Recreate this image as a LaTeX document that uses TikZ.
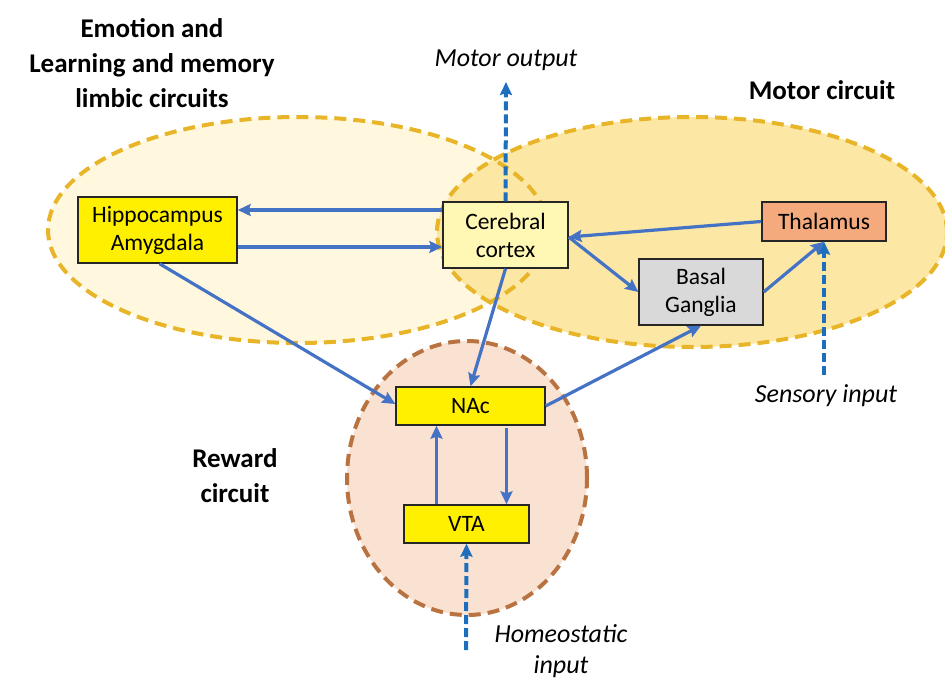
\documentclass[tikz,border=0pt]{standalone}
\usepackage{fontspec}
\setmainfont{Carlito}
\usetikzlibrary{arrows.meta}
\definecolor{goldline}{RGB}{232,180,40}
\definecolor{limbfill}{RGB}{255,248,222}
\definecolor{motorfill}{RGB}{253,231,165}
\definecolor{rewfill}{RGB}{250,226,210}
\definecolor{rewline}{RGB}{185,115,65}
\definecolor{boxyellow}{RGB}{255,240,0}
\definecolor{cortexfill}{RGB}{255,247,180}
\definecolor{thalfill}{RGB}{244,170,125}
\definecolor{bgfill}{RGB}{217,217,217}
\definecolor{arrblue}{RGB}{68,114,196}
\definecolor{dashblue}{RGB}{30,110,190}
\begin{document}
\begin{tikzpicture}[x=1pt,y=-1pt,
  region/.style={line width=4pt, dash pattern=on 12pt off 7pt},
  box/.style={draw=black!85, line width=1.4pt, align=center, font=\fontsize{23.5}{28}\selectfont, inner sep=0pt},
  conn/.style={draw=arrblue, line width=3.2pt, -{Stealth[length=13pt,width=12pt,inset=2pt]}},
  inconn/.style={draw=dashblue, line width=4pt, dash pattern=on 9pt off 4pt, -{Stealth[length=13pt,width=12pt,inset=2pt]}},
  title/.style={font=\bfseries\fontsize{27}{35}\selectfont, align=center},
  lbl/.style={font=\itshape\fontsize{26}{31}\selectfont, align=center}]
\useasboundingbox (0,0) rectangle (945,682);
% region fills
\fill[limbfill] (298,230) ellipse [x radius=250pt, y radius=113pt];
\fill[motorfill] (692,232) ellipse [x radius=255pt, y radius=115pt];
\fill[rewfill] (467,478) ellipse [x radius=120pt, y radius=137pt];
% region borders
\draw[region, goldline] (298,230) ellipse [x radius=250pt, y radius=113pt];
\draw[region, goldline] (692,232) ellipse [x radius=255pt, y radius=115pt];
\draw[region, rewline] (467,478) ellipse [x radius=120pt, y radius=137pt];
% titles
\node[title] (tlimbic) at (152,63) {Emotion and\\Learning and memory\\limbic circuits};
\node[title] (tmotor) at (822,90) {Motor circuit};
\node[title] (treward) at (235,476) {Reward\\circuit};
% boxes
\node[box, fill=boxyellow, minimum width=159pt, minimum height=66pt] (hippo) at (157.5,230) {Hippocampus\\Amygdala};
\node[box, fill=cortexfill, minimum width=125pt, minimum height=66pt] (cortex) at (505.5,235) {Cerebral\\cortex};
\node[box, fill=thalfill, minimum width=124pt, minimum height=39pt] (thal) at (824,221.5) {Thalamus};
\node[box, fill=bgfill, minimum width=124pt, minimum height=66pt] (bg) at (701,292) {Basal\\Ganglia};
\node[box, fill=boxyellow, minimum width=149pt, minimum height=38pt] (nac) at (470.5,406) {NAc};
\node[box, fill=boxyellow, minimum width=125pt, minimum height=38pt] (vta) at (466.5,524) {VTA};
% external labels
\node[lbl] (lmo) at (506,60) {Motor output};
\node[lbl] (lsi) at (826,396) {Sensory input};
\node[lbl] (lhi) at (561,651) {Homeostatic\\input};
\coordinate (mo) at (506,82);
\coordinate (si) at (824,375);
\coordinate (hi) at (466,650);
% connectors
\draw[conn] ([yshift=20pt]cortex.west |- hippo.east) -- ([yshift=20pt]hippo.east);
\draw[conn] ([yshift=-17pt]hippo.east) -- ([yshift=-17pt]hippo.east -| cortex.west);
\draw[conn] ([xshift=2pt]hippo.south) -- ([yshift=2pt]nac.west);
\draw[conn] (cortex.south) -- (nac.north);
\draw[conn] (thal.west) -- ([yshift=-2pt]cortex.east);
\draw[conn] ([yshift=-2pt]cortex.east) -- (bg.west);
\draw[conn] (bg.east) -- (thal.south);
\draw[conn] (nac.east) -- (bg.south);
\draw[conn] ([xshift=-30pt]vta.north) -- ([xshift=-30pt]vta.north |- nac.south);
\draw[conn] ([xshift=40pt,yshift=-2pt]vta.north |- nac.south) -- ([xshift=40pt]vta.north);
% inputs / outputs
\draw[inconn] (cortex.north) -- (mo);
\draw[inconn] (si) -- (thal.south);
\draw[inconn] (hi) -- (vta.south);
\end{tikzpicture}
\end{document}
